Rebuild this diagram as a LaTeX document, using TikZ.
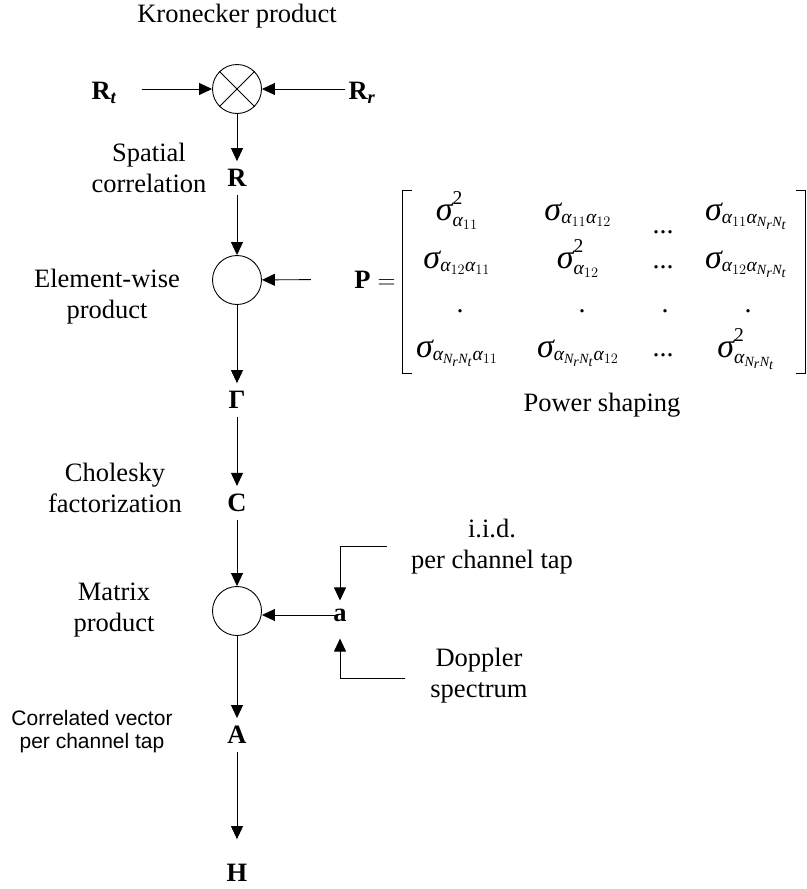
\documentclass[tikz,border=0pt]{standalone}
\usepackage{amsmath}
\usepackage{fontspec}
\setmainfont{Liberation Serif}
\newfontfamily\arialfont{Liberation Sans}
\usetikzlibrary{arrows.meta}

\newcommand{\sg}{\text{\fontsize{34}{34}\selectfont\itshape σ}}
\newcommand{\al}{\textit{α}}
\newcommand{\NN}{\textit{N}_{\textit{r}}\textit{N}_{\textit{t}}}
\newcommand{\sqr}{\raisebox{6pt}{\fontsize{19.6}{20}\selectfont 2}}

\begin{document}
\begin{tikzpicture}[x=1pt, y=-1pt,
  every node/.style={font=\fontsize{26.5}{31}\selectfont},
  arr/.style={-{Triangle[length=13pt, width=12pt]}, line width=0.9pt},
  sym/.style={font=\fontsize{26.5}{31}\selectfont\bfseries, inner sep=8pt},
  op/.style={draw, circle, minimum size=49pt, inner sep=0pt, line width=0.9pt},
  lbl/.style={align=center},
  entry/.style={anchor=base, font=\fontsize{28}{34}\selectfont, inner sep=0pt}]
\useasboundingbox (0,0) rectangle (806,889);

% chain of operations
\node[op] (kron) at (237,89) {};
\draw[line width=0.9pt] (kron.45) -- (kron.225) (kron.135) -- (kron.-45);
\node[sym] (Rt) at (104,93) {$\textbf{R}_{\textit{t}}$};
\node[sym] (Rr) at (362,93) {$\textbf{R}_{\textit{r}}$};
\node[sym] (R) at (237,178) {R};
\node[op] (ewp) at (237,280) {};
\node[sym] (Gamma) at (237,400) {Γ};
\node[sym] (C) at (237,503) {C};
\node[op] (mprod) at (237,611) {};
\node[sym] (a) at (340,615) {a};
\node[sym] (A) at (237,735) {A};
\node[sym] (H) at (237,873) {H};

\draw[arr, shorten <=17pt] (Rt.east |- kron) -- (kron);
\draw[arr, shorten <=-5pt] (Rr.west |- kron) -- (kron);
\draw[arr] (kron) -- (R);
\draw[arr] (R) -- (ewp);
\draw[arr] (ewp) -- (Gamma);
\draw[arr] (Gamma) -- (C);
\draw[arr] (C) -- (mprod);
\draw[arr] (mprod) -- (A);
\draw[arr, shorten >=17pt] (A) -- (H);
\draw[arr, shorten <=-10pt] (a) -- (a -| mprod.east);

% inputs of a
\coordinate (iidin) at (387,546);
\coordinate (dopin) at (405,678);
\draw[arr] (iidin) -| (a);
\draw[arr, shorten >=9pt] (dopin) -| (a);

% labels
\node[lbl] (lblkron) at (237,16) {Kronecker product};
\node[lbl] (lblspat) at (149,168) {Spatial\\correlation};
\node[lbl] (lblewp) at (107,297) {Element-wise\\product};
\node[lbl] (lblchol) at (115,488) {Cholesky\\factorization};
\node[lbl] (lblmprod) at (114,610) {Matrix\\product};
\node[lbl, font=\arialfont\fontsize{21}{23}\selectfont] (lblcorr) at (92,732) {Correlated vector\\per channel tap};
\node[lbl] (lbliid) at (492,547) {i.i.d.\\per channel tap};
\node[lbl] (lbldop) at (479,676) {Doppler\\spectrum};
\node[lbl] (lblpow) at (602,405) {Power shaping};

% power shaping matrix
\node[anchor=base] (P) at (375,288) {$\textbf{P}=$};
\draw[arr, shorten <=40pt] (P) -- (ewp);
\draw[line width=0.9pt] (412,190) -- (402,190) -- (402,373) -- (412,373);
\draw[line width=0.9pt] (796,190) -- (805,190) -- (805,373) -- (796,373);

\node[entry] (p11) at (457,220) {$\sg^{\sqr}_{\al_{11}}$};
\node[entry] (p12) at (578,220) {$\sg_{\al_{11}\al_{12}}$};
\node[entry] (p13) at (663,233) {...};
\node[entry] (p14) at (746,220) {$\sg_{\al_{11}\al_{\NN}}$};
\node[entry] (p21) at (457,268) {$\sg_{\al_{12}\al_{11}}$};
\node[entry] (p22) at (578,268) {$\sg^{\sqr}_{\al_{12}}$};
\node[entry] (p23) at (663,268) {...};
\node[entry] (p24) at (746,268) {$\sg_{\al_{12}\al_{\NN}}$};
\node[entry] (p31) at (460,312) {.};
\node[entry] (p32) at (582,312) {.};
\node[entry] (p33) at (665,312) {.};
\node[entry] (p34) at (748,312) {.};
\node[entry] (p41) at (457,357) {$\sg_{\al_{\NN}\al_{11}}$};
\node[entry] (p42) at (578,357) {$\sg_{\al_{\NN}\al_{12}}$};
\node[entry] (p43) at (663,356) {...};
\node[entry] (p44) at (746,357) {$\sg^{\sqr}_{\al_{\NN}}$};
\end{tikzpicture}
\end{document}
